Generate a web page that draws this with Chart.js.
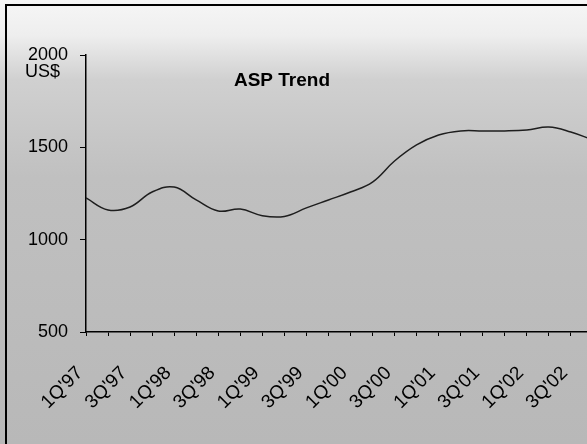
<!DOCTYPE html>
<html>
<head>
<meta charset="utf-8">
<script src="https://cdn.jsdelivr.net/npm/chart.js@4/dist/chart.umd.min.js"></script>
<style>
  html, body { margin: 0; padding: 0; overflow: hidden; background: #c4c4c4; }
  #wrap { width: 587px; height: 444px; overflow: hidden; position: relative; }
  canvas { display: block; }
</style>
</head>
<body>
<div id="wrap"><canvas id="grafico" width="635" height="444"></canvas></div>
<script>
// quarters 1Q'97 .. 4Q'02 (last one falls off the right edge)
const trimestres = [
  "1Q'97", "2Q'97", "3Q'97", "4Q'97",
  "1Q'98", "2Q'98", "3Q'98", "4Q'98",
  "1Q'99", "2Q'99", "3Q'99", "4Q'99",
  "1Q'00", "2Q'00", "3Q'00", "4Q'00",
  "1Q'01", "2Q'01", "3Q'01", "4Q'01",
  "1Q'02", "2Q'02", "3Q'02", "4Q'02"
];

// average selling price, US$
const asp = [
  1226, 1161, 1177, 1258,
  1285, 1215, 1155, 1166,
  1130, 1126, 1172, 1215,
  1258, 1312, 1426, 1513,
  1567, 1589, 1589, 1589,
  1594, 1610, 1583, 1540
];

const yTicks = [500, 1000, 1500, 2000];

// fundo cinza + moldura + textos soltos
const fundo = {
  id: "fundo",
  beforeDraw(chart) {
    const { ctx, width, height } = chart;
    ctx.save();
    const g = ctx.createLinearGradient(0, 0, 0, height);
    g.addColorStop(0, "#f6f6f6");
    g.addColorStop(0.08, "#eeeeee");
    g.addColorStop(0.18, "#d0d0d0");
    g.addColorStop(0.4, "#c0c0c0");
    g.addColorStop(1, "#b8b8b8");
    ctx.fillStyle = g;
    ctx.fillRect(0, 0, width, height);

    ctx.strokeStyle = "#000";
    ctx.lineWidth = 2;
    ctx.beginPath();
    ctx.moveTo(6, 444);
    ctx.lineTo(6, 5);
    ctx.lineTo(width, 5);
    ctx.stroke();
    ctx.restore();
  },
  afterDraw(chart) {
    const { ctx } = chart;
    ctx.save();
    ctx.fillStyle = "#000";
    ctx.textBaseline = "top";
    ctx.textAlign = "left";
    ctx.font = "18px 'Liberation Sans', Arial, sans-serif";
    ctx.fillText("US$", 25, 63);

    ctx.font = "bold 19px 'Liberation Sans', Arial, sans-serif";
    ctx.textBaseline = "middle";
    ctx.textAlign = "center";
    ctx.fillText("ASP Trend", 282, 81);
    ctx.restore();
  }
};

const ctx = document.getElementById("grafico").getContext("2d");
new Chart(ctx, {
  type: "line",
  data: {
    labels: trimestres,
    datasets: [
      {
        label: "ASP",
        data: asp,
        borderColor: "#1e1e1e",
        borderWidth: 1.5,
        pointRadius: 0,
        tension: 0.4,
        fill: false,
      },
    ],
  },
  options: {
    responsive: false,
    animation: false,
    layout: { padding: { top: 55, right: 10, left: 0, bottom: 0 } },
    plugins: { legend: { display: false }, tooltip: { enabled: false } },
    scales: {
      x: {
        offset: false,
        border: { color: "#000", width: 1.5 },
        grid: { drawOnChartArea: false, drawTicks: true, tickLength: 4, color: "#000" },
        ticks: {
          autoSkip: false,
          maxRotation: 45,
          minRotation: 45,
          padding: 26,
          labelOffset: -6,
          color: "#000",
          font: { family: "'Liberation Sans', Arial, sans-serif", size: 19 },
          callback: function (value, index) {
            return index % 2 === 0 ? this.getLabelForValue(value) : "";
          },
        },
        afterFit: (s) => { s.height = 112; },
      },
      y: {
        min: 500,
        max: 2000,
        border: { color: "#000", width: 1.5 },
        grid: { drawOnChartArea: false, drawTicks: true, tickLength: 6, color: "#000" },
        afterBuildTicks: (s) => { s.ticks = yTicks.map((v) => ({ value: v })); },
        ticks: {
          padding: 12,
          color: "#000",
          font: { family: "'Liberation Sans', Arial, sans-serif", size: 18 },
          callback: (v) => String(v),
        },
        afterFit: (s) => { s.width = 86; },
      },
    },
  },
  plugins: [fundo],
});
</script>
</body>
</html>
